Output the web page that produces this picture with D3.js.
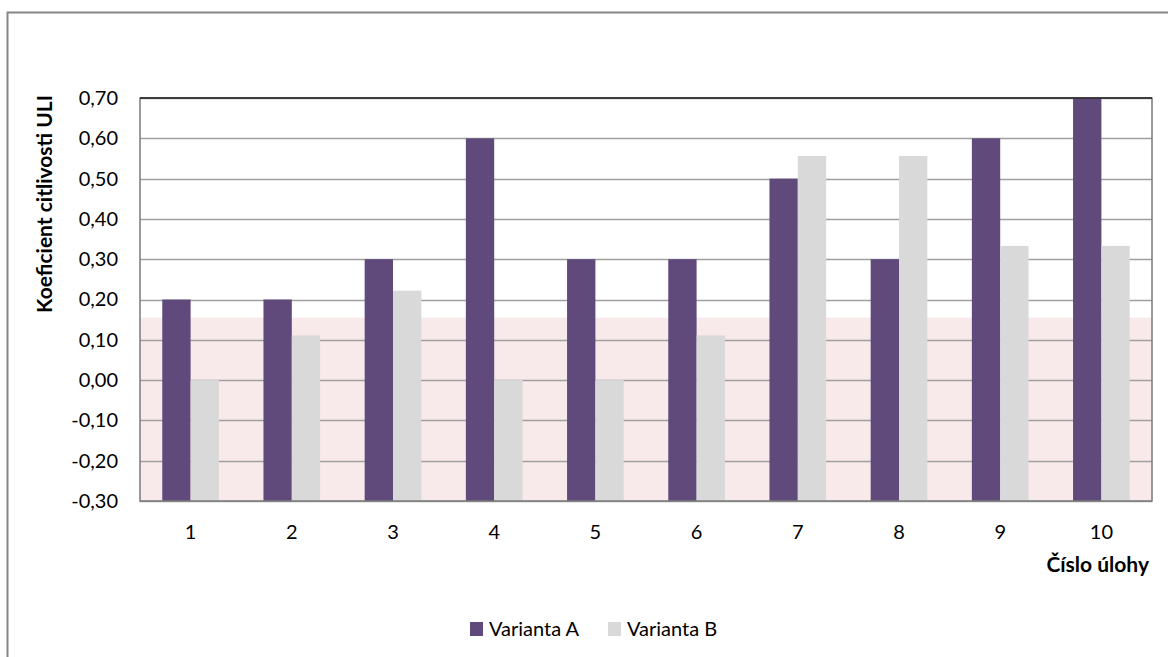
<!DOCTYPE html>
<html>
<head>
<meta charset="utf-8">
<script src="https://cdn.jsdelivr.net/npm/d3@7"></script>
<style>
  body { margin: 0; background: #fff; }
  text { font-family: Lato, "Open Sans", sans-serif; }
</style>
</head>
<body>
<div id="chart"></div>
<script>
// Data
const categories = ["1", "2", "3", "4", "5", "6", "7", "8", "9", "10"];
const seriesNames = ["Varianta A", "Varianta B"];
const variantaA = [0.2, 0.2, 0.3, 0.6, 0.3, 0.3, 0.5, 0.3, 0.6, 0.7];
const variantaB = [0.0, 0.111, 0.222, 0.0, 0.0, 0.111, 0.556, 0.556, 0.333, 0.333];
const yTicks = [-0.3, -0.2, -0.1, 0, 0.1, 0.2, 0.3, 0.4, 0.5, 0.6, 0.7];
const bandLimit = 0.155; // pink zone upper value

const colors = ["#604a7b", "#d9d9d9"];

const W = 1168, H = 657;
const margin = { top: 98, right: 16, bottom: 156, left: 140 };
const width = W - margin.left - margin.right,
  height = H - margin.top - margin.bottom;

const svg = d3
  .select("#chart")
  .append("svg")
  .attr("width", W)
  .attr("height", H);

// Outer chart border
svg
  .append("rect")
  .attr("x", 7.5)
  .attr("y", 12.5)
  .attr("width", W)
  .attr("height", H)
  .attr("fill", "none")
  .attr("stroke", "#868686")
  .attr("stroke-width", 2);

const g = svg
  .append("g")
  .attr("transform", `translate(${margin.left},${margin.top})`);

// Scales
const x = d3.scaleBand().domain(categories).range([0, width]).paddingInner(0.44).paddingOuter(0.22);
const x1 = d3.scaleBand().domain(seriesNames).range([0, x.bandwidth()]);
const y = d3.scaleLinear().domain([-0.3, 0.7]).range([height, 0]);

// Pink zone
g.append("rect")
  .attr("x", 0)
  .attr("y", y(bandLimit))
  .attr("width", width)
  .attr("height", y(-0.3) - y(bandLimit))
  .attr("fill", "#f8eaea");

// Gridlines
g.append("g")
  .selectAll("line")
  .data(yTicks)
  .enter()
  .append("line")
  .attr("x1", 0)
  .attr("x2", width)
  .attr("y1", (d) => Math.round(y(d)) + 0.5)
  .attr("y2", (d) => Math.round(y(d)) + 0.5)
  .attr("stroke", "#a0a0a0")
  .attr("stroke-width", 1.5);

// Bars (from the axis crossing at -0,30)
const data = categories.map((c, i) => ({ cat: c, values: [variantaA[i], variantaB[i]] }));
const groups = g
  .selectAll(".grp")
  .data(data)
  .enter()
  .append("g")
  .attr("transform", (d) => `translate(${x(d.cat)},0)`);

groups
  .selectAll("rect")
  .data((d) => d.values.map((v, j) => ({ name: seriesNames[j], v, j })))
  .enter()
  .append("rect")
  .attr("x", (d) => x1(d.name))
  .attr("y", (d) => y(d.v))
  .attr("width", x1.bandwidth())
  .attr("height", (d) => y(-0.3) - y(d.v))
  .attr("fill", (d) => colors[d.j]);

// Plot area border
g.append("rect")
  .attr("x", 0)
  .attr("y", 0)
  .attr("width", width)
  .attr("height", height)
  .attr("fill", "none")
  .attr("stroke", "#7a7a7a")
  .attr("stroke-width", 1.5);
g.append("line")
  .attr("x1", 0)
  .attr("x2", width)
  .attr("y1", 0)
  .attr("y2", 0)
  .attr("stroke", "#222")
  .attr("stroke-width", 1.5);

// Y axis labels
const fmt = (d) => d3.format(".2f")(d).replace(".", ",").replace("−", "-");
g.append("g")
  .call(d3.axisLeft(y).tickValues(yTicks).tickFormat(fmt).tickSize(0).tickPadding(22))
  .call((a) => a.select(".domain").remove())
  .selectAll("text")
  .style("font-size", "20px")
  .style("font-family", "Lato, sans-serif")
  .attr("fill", "#000");

// X axis labels
g.append("g")
  .attr("transform", `translate(0,${height})`)
  .call(d3.axisBottom(x).tickSize(0).tickPadding(24))
  .call((a) => a.select(".domain").remove())
  .selectAll("text")
  .style("font-size", "20px")
  .style("font-family", "Lato, sans-serif")
  .attr("fill", "#000");

// Axis titles
svg
  .append("text")
  .attr("transform", "translate(52,204) rotate(-90)")
  .attr("text-anchor", "middle")
  .style("font-size", "21px")
  .style("font-weight", "bold")
  .text("Koeficient citlivosti ULI");

svg
  .append("text")
  .attr("x", margin.left + width - 3)
  .attr("y", 572)
  .attr("text-anchor", "end")
  .style("font-size", "21px")
  .style("font-weight", "bold")
  .text("Číslo úlohy");

// Legend
const legend = svg.append("g").attr("transform", "translate(470,622)");
const legendX = [0, 138];
seriesNames.forEach((name, i) => {
  const item = legend.append("g").attr("transform", `translate(${legendX[i]},0)`);
  item.append("rect").attr("width", 13).attr("height", 14).attr("fill", colors[i]);
  item
    .append("text")
    .attr("x", 19)
    .attr("y", 14)
    .style("font-size", "20px")
    .attr("fill", "#000")
    .text(name);
});
</script>
</body>
</html>
